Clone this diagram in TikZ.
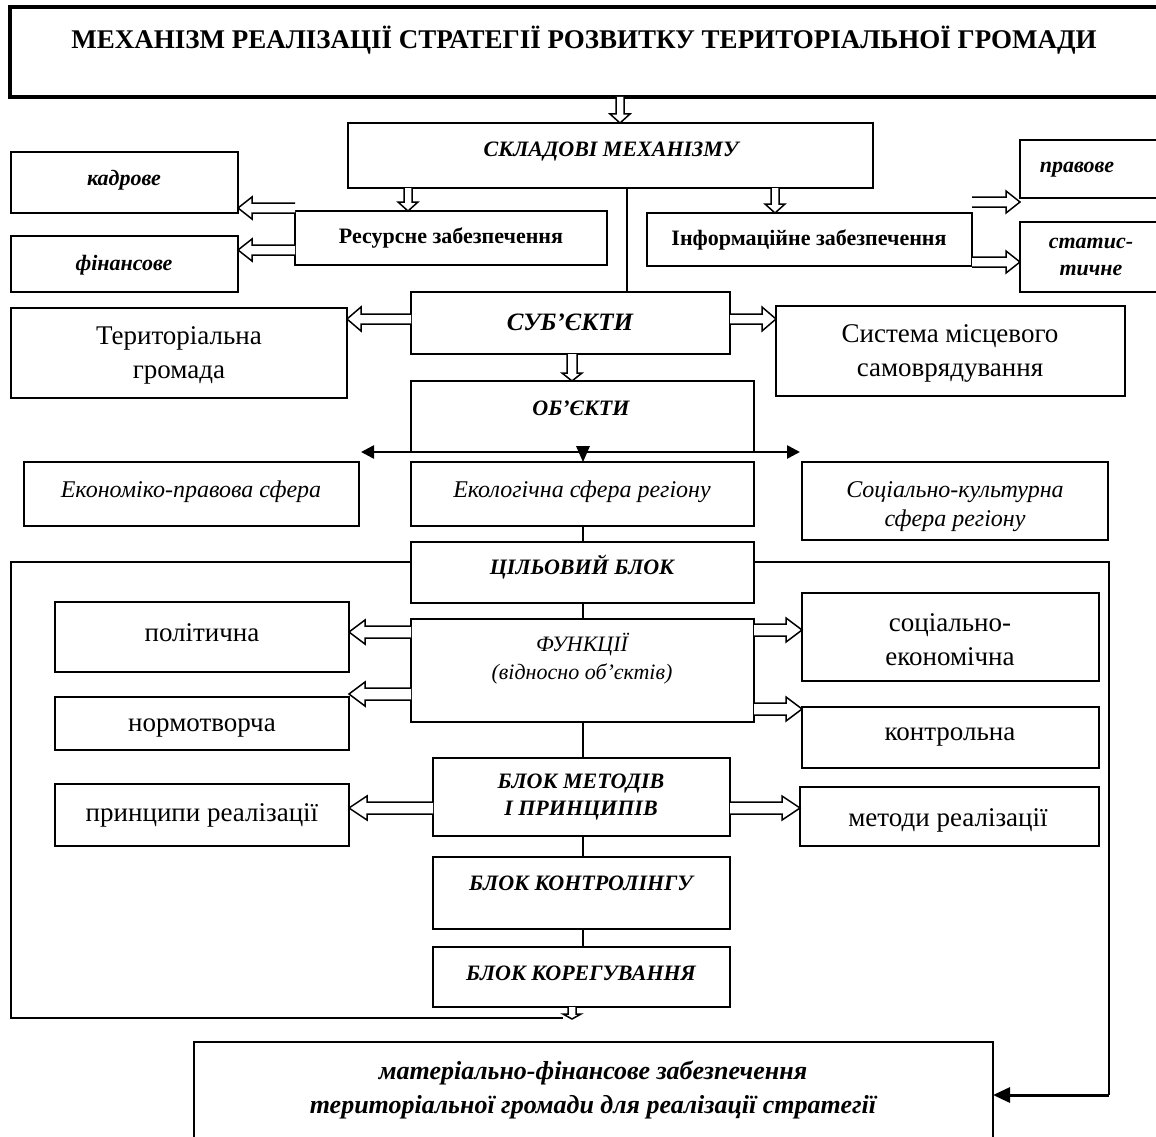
\documentclass[tikz,border=0pt]{standalone}
\usepackage{fontspec}
\setmainfont{Liberation Serif}
\usetikzlibrary{calc,arrows.meta}
\tikzset{
  bx/.style={draw, line width=2pt, inner sep=0pt, outer sep=0pt},
  lbl/.style={inner sep=0pt, align=center},
  tbig/.style={lbl, font=\fontsize{27}{32}\selectfont\bfseries},
  bi/.style={lbl, font=\fontsize{22}{27}\selectfont\bfseries\itshape},
  bu/.style={lbl, font=\fontsize{22}{27}\selectfont\bfseries},
  rg/.style={lbl, font=\fontsize{27}{34}\selectfont},
  it/.style={lbl, font=\fontsize{24}{29}\selectfont\itshape},
  itsm/.style={lbl, font=\fontsize{22}{28}\selectfont\itshape},
  hol/.style={draw, line width=1.5pt, fill=white, line join=miter},
  thin/.style={draw, line width=1.2pt},
  frame/.style={draw, line width=1.7pt},
}
% box: #2..#5 = x1,y1,x2,y2 ; #6 name
\newcommand\bxn[6][]{\node[bx,#1, minimum width={#4-#2}, minimum height={#5-#3}] (#6) at ({(#2+#4)/2},{(#3+#5)/2}) {};}
% hollow arrow: from, to, shaft half, head half, head length
\newcommand\harr[5]{%
\draw[hol] let \p1=#1, \p2=#2, \n1={atan2(\y2-\y1,\x2-\x1)}, \n2={veclen(\x2-\x1,\y2-\y1)-#5} in
 ($(\p1)+(\n1+90:#3pt)$) -- ($(\p1)+(\n1:\n2)+(\n1+90:#3pt)$) -- ($(\p1)+(\n1:\n2)+(\n1+90:#4pt)$) -- (\p2) -- ($(\p1)+(\n1:\n2)+(\n1-90:#4pt)$) -- ($(\p1)+(\n1:\n2)+(\n1-90:#3pt)$) -- ($(\p1)+(\n1-90:#3pt)$);}
\begin{document}
\begin{tikzpicture}[x=1pt,y=-1pt]
\useasboundingbox (0,0) rectangle (1156,1137);
% boxes
\bxn[line width=3.5pt]{10}{7}{1175}{97}{title}
\bxn{348}{123}{873}{188}{skl}
\bxn{11}{152}{238}{213}{kadr}
\bxn{11}{236}{238}{292}{fin}
\bxn{295}{211}{607}{265}{res}
\bxn{647}{213}{972}{266}{inf}
\bxn{1020}{140}{1175}{198}{prav}
\bxn{1020}{222}{1175}{292}{stat}
\bxn{411}{292}{730}{354}{sub}
\bxn{11}{308}{347}{398}{ter}
\bxn{776}{306}{1125}{396}{sys}
\bxn{411}{381}{754}{452}{obj}
\bxn{24}{462}{359}{526}{eco}
\bxn{411}{462}{754}{526}{ekol}
\bxn{802}{462}{1108}{540}{soc}
\bxn{411}{542}{754}{603}{cil}
\bxn{55}{602}{349}{672}{pol}
\bxn{55}{697}{349}{750}{norm}
\bxn{411}{619}{754}{722}{func}
\bxn{802}{593}{1099}{681}{socek}
\bxn{802}{707}{1099}{768}{kontr}
\bxn{433}{758}{730}{836}{met}
\bxn{55}{784}{349}{846}{prin}
\bxn{800}{787}{1099}{846}{metr}
\bxn{433}{857}{730}{929}{ktr}
\bxn{433}{947}{730}{1007}{kor}
\bxn{194}{1042}{993}{1160}{fin2}
% texts
\node[tbig] (t-title) at (584,40) {МЕХАНІЗМ РЕАЛІЗАЦІЇ СТРАТЕГІЇ РОЗВИТКУ ТЕРИТОРІАЛЬНОЇ ГРОМАДИ};
\node[bi] (t-skl) at (611,152) {СКЛАДОВІ МЕХАНІЗМУ};
\node[bi] (t-kadr) at (124,180) {кадрове};
\node[bi] (t-fin) at (124,265) {фінансове};
\node[bu] (t-res) at (451,238) {Ресурсне забезпечення};
\node[bu] (t-inf) at (809,240) {Інформаційне забезпечення};
\node[bi] (t-prav) at (1077,170) {правове};
\node[bi] (t-stat) at (1091,257) {статис-\\тичне};
\node[bi, font=\fontsize{25}{30}\selectfont\bfseries\itshape] (t-sub) at (570,322) {СУБ’ЄКТИ};
\node[rg] (t-ter) at (179,355) {Територіальна\\громада};
\node[rg] (t-sys) at (950,353) {Система місцевого\\самоврядування};
\node[bi] (t-obj) at (581,408) {ОБ’ЄКТИ};
\node[it] (t-eco) at (191,492) {Економіко-правова сфера};
\node[it] (t-ekol) at (582,492) {Екологічна сфера регіону};
\node[it] (t-soc) at (955,507) {Соціально-культурна\\сфера регіону};
\node[bi] (t-cil) at (582,567) {ЦІЛЬОВИЙ БЛОК};
\node[rg] (t-pol) at (202,633) {політична};
\node[rg] (t-norm) at (202,728) {нормотворча};
\node[itsm] (t-func) at (582,659) {ФУНКЦІЇ\\(відносно об’єктів)};
\node[rg] (t-socek) at (950,640) {соціально-\\економічна};
\node[rg] (t-kontr) at (950,737) {контрольна};
\node[bi] (t-met) at (581,797) {БЛОК МЕТОДІВ\\І ПРИНЦИПІВ};
\node[rg] (t-prin) at (202,815) {принципи реалізації};
\node[rg] (t-metr) at (948,820) {методи реалізації};
\node[bi] (t-ktr) at (581,883) {БЛОК КОНТРОЛІНГУ};
\node[bi] (t-kor) at (581,973) {БЛОК КОРЕГУВАННЯ};
\node[bi, font=\fontsize{26}{34}\selectfont\bfseries\itshape] (t-fin2) at (593,1090) {матеріально-фінансове забезпечення\\територіальної громади для реалізації стратегії};
% hollow arrows
\harr{(title.south -| 620,0)}{(skl.north -| 620,0)}{4}{10}{9}
\harr{(skl.south -| 408,0)}{(res.north -| 408,0)}{4}{10}{9}
\harr{(skl.south -| 775,0)}{(inf.north -| 775,0)}{4}{10}{9}
\harr{(res.west |- 0,208)}{(kadr.east |- 0,208)}{5}{11}{14}
\harr{(res.west |- 0,250)}{(fin.east |- 0,250)}{5}{11}{14}
\harr{(inf.east |- 0,202)}{(prav.west |- 0,202)}{5}{11}{14}
\harr{(inf.east |- 0,262)}{(stat.west |- 0,262)}{5}{11}{14}
\harr{(sub.west |- 0,319)}{(ter.east |- 0,319)}{5}{12}{14}
\harr{(sub.east |- 0,319)}{(sys.west |- 0,319)}{5}{12}{14}
\harr{(sub.south -| 572,0)}{(obj.north -| 572,0)}{5}{10}{8}
\harr{(func.west |- 0,632)}{(pol.east |- 0,632)}{6}{12}{16}
\harr{(func.west |- 0,694)}{(norm.east |- 0,694)}{6}{12}{16}
\harr{(func.east |- 0,630)}{(socek.west |- 0,630)}{6}{12}{16}
\harr{(func.east |- 0,709)}{(kontr.west |- 0,709)}{6}{12}{16}
\harr{(met.west |- 0,808)}{(prin.east |- 0,808)}{6}{12}{18}
\harr{(met.east |- 0,808)}{(metr.west |- 0,808)}{6}{12}{18}
% thin connectors
\draw[thin] (skl.south -| 627,0) -- (sub.north -| 627,0);
\draw[thin] (ekol.south -| 583,0) -- (cil.north -| 583,0);
\draw[thin] (cil.south -| 583,0) -- (func.north -| 583,0);
\draw[thin] (func.south -| 583,0) -- (met.north -| 583,0);
\draw[thin] (met.south -| 583,0) -- (ktr.north -| 583,0);
\draw[thin] (ktr.south -| 583,0) -- (kor.north -| 583,0);
% objects distribution
\coordinate (oL) at (361,452);
\coordinate (oR) at (800,452);
\draw[line width=2.6pt, {Triangle[length=13pt,width=13pt]}-{Triangle[length=13pt,width=13pt]}] (oL) -- (oR);
\fill ($(obj.south -| 583,0)+(-7,-6)$) -- ($(obj.south -| 583,0)+(7,-6)$) -- (ekol.north -| 583,0) -- cycle;
% outer frame
\coordinate (fbl) at (563,1018);
\draw[frame] (cil.west |- 0,562) -- (11,562) -- (11,1018) -- (fbl);
\harr{(kor.south -| 572,0)}{(572,1019)}{4}{9}{5}
\draw[frame] (cil.east |- 0,562) -- (1109,562) -- (1109,1095);
\draw[line width=3pt, -{Triangle[length=17pt,width=15pt]}] (1109,1095) -- (fin2.east |- 0,1095);
\end{tikzpicture}
\end{document}
